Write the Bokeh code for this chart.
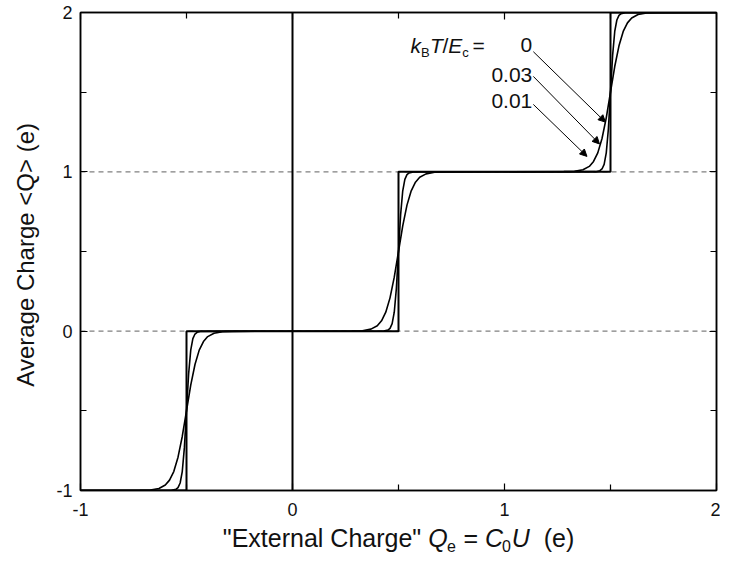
from bokeh.plotting import figure
from bokeh.layouts import column
from bokeh.models import (Range1d, LinearAxis, FixedTicker, Span, Label, Arrow,
                          NormalHead, ColumnDataSource)
from bokeh.core.properties import value
from bokeh.embed import file_html
from bokeh.resources import INLINE

# ---------------- data ----------------
x_ticks = [-1, 0, 1, 2]
x_minor = [-0.5, 0.5, 1.5]
y_ticks = [-1, 0, 1, 2]
y_minor = [-0.5, 0.5, 1.5]
tick_labels = {-1: "-1", 0: "0", 1: "1", 2: "2"}

ref_levels = [0, 1]       # dashed horizontal guides
ref_vertical = 0          # solid vertical guide at Qe = 0

# kT/Ec = 0  (ideal staircase)
q_t0_x = [-1.0, -0.5, -0.5, 0.5, 0.5, 1.5, 1.5, 2.0]
q_t0_y = [-1.0, -1.0, 0.0, 0.0, 1.0, 1.0, 2.0, 2.0]

# kT/Ec = 0.01
q_t001_x = [-1.00, -0.57, -0.55, -0.54, -0.53, -0.52, -0.51, -0.50, -0.49, -0.48, -0.47, -0.46, -0.45, -0.43,
            0.43, 0.45, 0.46, 0.47, 0.48, 0.49, 0.50, 0.51, 0.52, 0.53, 0.54, 0.55, 0.57,
            1.43, 1.45, 1.46, 1.47, 1.48, 1.49, 1.50, 1.51, 1.52, 1.53, 1.54, 1.55, 1.57, 2.00]
q_t001_y = [-1.000, -0.999, -0.993, -0.982, -0.953, -0.881, -0.731, -0.500, -0.269, -0.119, -0.047, -0.018, -0.007, -0.001,
            0.001, 0.007, 0.018, 0.047, 0.119, 0.269, 0.500, 0.731, 0.881, 0.953, 0.982, 0.993, 0.999,
            1.001, 1.007, 1.018, 1.047, 1.119, 1.269, 1.500, 1.731, 1.881, 1.953, 1.982, 1.993, 1.999, 2.000]

# kT/Ec = 0.03
q_t003_x = [-1.00, -0.72, -0.67, -0.63, -0.60, -0.58, -0.56, -0.54, -0.52, -0.50, -0.48, -0.46, -0.44, -0.42, -0.40, -0.37, -0.33, -0.28,
            0.28, 0.33, 0.37, 0.40, 0.42, 0.44, 0.46, 0.48, 0.50, 0.52, 0.54, 0.56, 0.58, 0.60, 0.63, 0.67, 0.72,
            1.28, 1.33, 1.37, 1.40, 1.42, 1.44, 1.46, 1.48, 1.50, 1.52, 1.54, 1.56, 1.58, 1.60, 1.63, 1.67, 1.72, 2.00]
q_t003_y = [-1.000, -0.999, -0.997, -0.987, -0.966, -0.935, -0.881, -0.791, -0.661, -0.500, -0.339, -0.209, -0.119, -0.065, -0.034, -0.013, -0.003, -0.001,
            0.001, 0.003, 0.013, 0.034, 0.065, 0.119, 0.209, 0.339, 0.500, 0.661, 0.791, 0.881, 0.935, 0.966, 0.987, 0.997, 0.999,
            1.001, 1.003, 1.013, 1.034, 1.065, 1.119, 1.209, 1.339, 1.500, 1.661, 1.791, 1.881, 1.935, 1.966, 1.987, 1.997, 1.999, 2.000]

temp_labels = ["0", "0.03", "0.01"]

# ---------------- main figure ----------------
FONT = "Liberation Sans"
INK = "#111111"
FL, FW, FR = 80, 636, 4      # left border, frame width, right border (px)

p = figure(frame_width=FW, frame_height=478,
           x_range=Range1d(-1, 2), y_range=Range1d(-1, 2),
           x_axis_type=None, y_axis_type=None,
           output_backend="svg", toolbar_location=None,
           min_border_left=FL, min_border_right=FR, min_border_top=12, min_border_bottom=30,
           background_fill_color="white", border_fill_color="white")
p.outline_line_color = "black"
p.outline_line_width = 1.5


def make_axis(ticks, minor, show_labels, standoff=10):
    ax = LinearAxis(ticker=FixedTicker(ticks=ticks, minor_ticks=minor))
    ax.axis_line_color = "black"
    ax.axis_line_width = 1.5
    ax.major_tick_in = 7
    ax.major_tick_out = 0
    ax.minor_tick_in = 6
    ax.minor_tick_out = 0
    ax.major_tick_line_width = 1.2
    ax.minor_tick_line_width = 1.2
    ax.major_tick_line_color = "black"
    ax.minor_tick_line_color = "black"
    if show_labels:
        ax.major_label_overrides = tick_labels
        ax.major_label_text_font = FONT
        ax.major_label_text_font_size = "18px"
        ax.major_label_text_color = INK
        ax.major_label_standoff = standoff
    else:
        ax.major_label_text_color = None
        ax.major_label_text_font_size = "1px"
        ax.major_label_standoff = 0
    return ax


xb = make_axis(x_ticks, x_minor, True, 12)
yl = make_axis(y_ticks, y_minor, True, 8)
yl.axis_label = "Average Charge <Q>  (e)"
yl.axis_label_text_font = FONT
yl.axis_label_text_font_size = "24px"
yl.axis_label_text_font_style = "normal"
yl.axis_label_text_color = INK
yl.axis_label_standoff = 14
xt = make_axis(x_ticks, x_minor, False)
yr = make_axis(y_ticks, y_minor, False)
p.add_layout(xb, "below")
p.add_layout(yl, "left")
p.add_layout(xt, "above")
p.add_layout(yr, "right")

# guides
for lv in ref_levels:
    p.add_layout(Span(location=lv, dimension="width", line_color="#808080",
                      line_dash="5 4", line_width=1.2, level="underlay"))
p.add_layout(Span(location=ref_vertical, dimension="height", line_color="black",
                  line_width=2, level="underlay"))

# curves
p.line(q_t003_x, q_t003_y, line_color="black", line_width=1.6)
p.line(q_t001_x, q_t001_y, line_color="black", line_width=1.6)
p.line(q_t0_x, q_t0_y, line_color="black", line_width=2)

# ---------------- annotation kB T / Ec = ----------------
ann_x, ann_y = 0.557, 1.795
kt_pieces = [
    ("k", 0.0, 0, "italic", "21px"),
    ("B", 10.5, -7, "normal", "13px"),
    ("T", 19.5, 0, "italic", "21px"),
    ("/", 31.8, 0, "normal", "21px"),
    ("E", 37.6, 0, "italic", "21px"),
    ("c", 51.6, -7, "normal", "13px"),
    ("=", 62.0, 0, "normal", "21px"),
]
for txt, dx, dy, style, size in kt_pieces:
    p.add_layout(Label(x=ann_x, y=ann_y, x_offset=dx, y_offset=dy, text=txt,
                       text_font=FONT, text_font_size=size, text_font_style=style,
                       text_color=INK, text_align="left", text_baseline="alphabetic"))

label_x = 1.131
label_ys = [1.795, 1.609, 1.442]
for txt, ly in zip(temp_labels, label_ys):
    p.add_layout(Label(x=label_x, y=ly, text=txt, text_font=FONT, text_font_size="21px",
                       text_color=INK, text_align="right", text_baseline="alphabetic"))

arrows = ColumnDataSource(dict(
    x0=[1.136, 1.136, 1.136],
    y0=[1.754, 1.599, 1.423],
    x1=[1.476, 1.448, 1.389],
    y1=[1.312, 1.175, 1.097],
))
p.add_layout(Arrow(end=NormalHead(size=7, fill_color="black", line_color="black", line_width=1),
                   x_start="x0", y_start="y0", x_end="x1", y_end="y1", source=arrows,
                   line_color="black", line_width=1))

# ---------------- x axis title strip (mixed fonts) ----------------
TH = 33
t = figure(frame_width=FW, frame_height=TH,
           x_range=Range1d(FL, FL + FW), y_range=Range1d(0, TH),
           x_axis_type=None, y_axis_type=None, output_backend="svg", toolbar_location=None,
           min_border_left=FL, min_border_right=FR, min_border_top=0, min_border_bottom=0,
           background_fill_color="white", border_fill_color="white")
try:
    t.title = None
except Exception:
    t.title.text_font_size = "0px"
    t.title.visible = False
t.outline_line_color = None
t.grid.visible = False

base = 16
sub = 8
pieces = [
    ('"External Charge"', 222.3, base, "normal", "25px"),
    ("Q", 427.7, base, "italic", "25px"),
    ("e", 446.5, sub, "normal", "16px"),
    ("=", 462.9, base, "normal", "25px"),
    ("C", 484.5, base, "italic", "25px"),
    ("0", 501.5, sub, "normal", "16px"),
    ("U", 511.2, base, "italic", "25px"),
    ("(e)", 543.2, base, "normal", "25px"),
]
for txt, px, py, style, size in pieces:
    t.text(x=[px], y=[py], text=[txt], text_font=value(FONT), text_font_size=value(size),
           text_font_style=value(style), text_color=INK, text_align="left",
           text_baseline="alphabetic")

layout = column(p, t, spacing=0)
open("out.html", "w").write(file_html(layout, INLINE))
